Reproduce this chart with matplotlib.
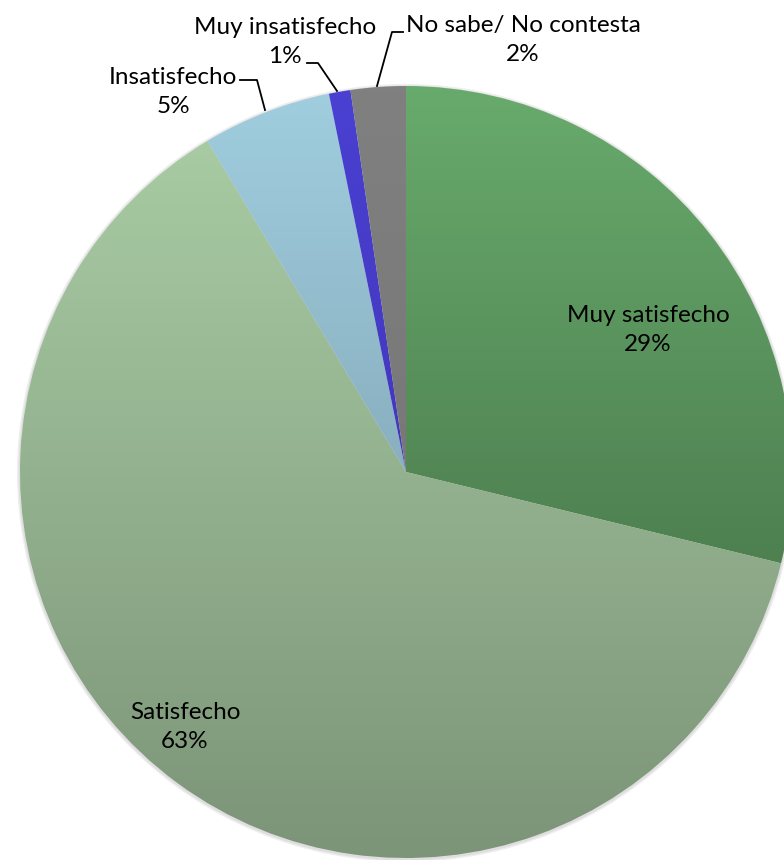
import numpy as np
import matplotlib.pyplot as plt
from matplotlib.colors import LinearSegmentedColormap
from matplotlib.patches import Circle

# satisfaction survey shares (percent), clockwise from 12 o'clock
labels = ['Muy satisfecho', 'Satisfecho', 'Insatisfecho', 'Muy insatisfecho', 'No sabe/ No contesta']
values = [28.8, 62.6, 5.4, 0.9, 2.3]
pct_text = ['29%', '63%', '5%', '1%', '2%']

# gradient fill, top colour -> bottom colour of the whole pie
top_colors = ['#68aa6c', '#abcfa6', '#a0cedf', '#4a40d2', '#808080']
bottom_colors = ['#3e663f', '#7c9478', '#7290a0', '#3a30a8', '#707070']

W, H = 784, 860
cx, cy, r = 406, H - 472, 386

fig = plt.figure(figsize=(W / 100, H / 100), dpi=100)
ax = fig.add_axes([0, 0, 1, 1])

# soft shadow around the pie
ax.add_patch(Circle((cx, cy - 1), r + 3, color='#eeeeee', zorder=0, lw=0))
ax.add_patch(Circle((cx, cy - 1), r + 1.5, color='#dedede', zorder=0, lw=0))

wedges, _ = ax.pie(values, startangle=90, counterclock=False,
                   center=(cx, cy), radius=r, frame=True,
                   wedgeprops=dict(linewidth=0))

grad = np.linspace(0, 1, 256).reshape(-1, 1)
for w, c0, c1 in zip(wedges, top_colors, bottom_colors):
    w.set_facecolor('none')
    cmap = LinearSegmentedColormap.from_list('g', [c0, c1])
    im = ax.imshow(grad, cmap=cmap, extent=(cx - r, cx + r, cy - r, cy + r),
                   origin='upper', aspect='auto', zorder=1, interpolation='bilinear')
    im.set_clip_path(w)

ax.set_xlim(0, W)
ax.set_ylim(0, H)
ax.set_aspect('equal')
ax.axis('off')

font = dict(family=['Lato', 'DejaVu Sans'], fontsize=17.5, color='black')

# label block centres (image pixel coords, y from top)
label_pos = [(648, 330), (185, 727), (173, 92), (285, 42), (523, 40)]
for lab, pct, (x, y) in zip(labels, pct_text, label_pos):
    ax.text(x, H - y, lab + '\n' + pct, ha='center', va='center',
            multialignment='center', linespacing=1.5, zorder=3, **font)

# leader lines for the small slices
leaders = [
    [(240, 80), (257, 80), (265, 110)],
    [(307, 63), (318, 63), (337, 91)],
    [(377, 86), (392, 32), (403, 32)],
]
for pts in leaders:
    xs = [p[0] for p in pts]
    ys = [H - p[1] for p in pts]
    ax.plot(xs, ys, color='black', lw=1.3, zorder=3)

fig.savefig('out.png', dpi=100)
